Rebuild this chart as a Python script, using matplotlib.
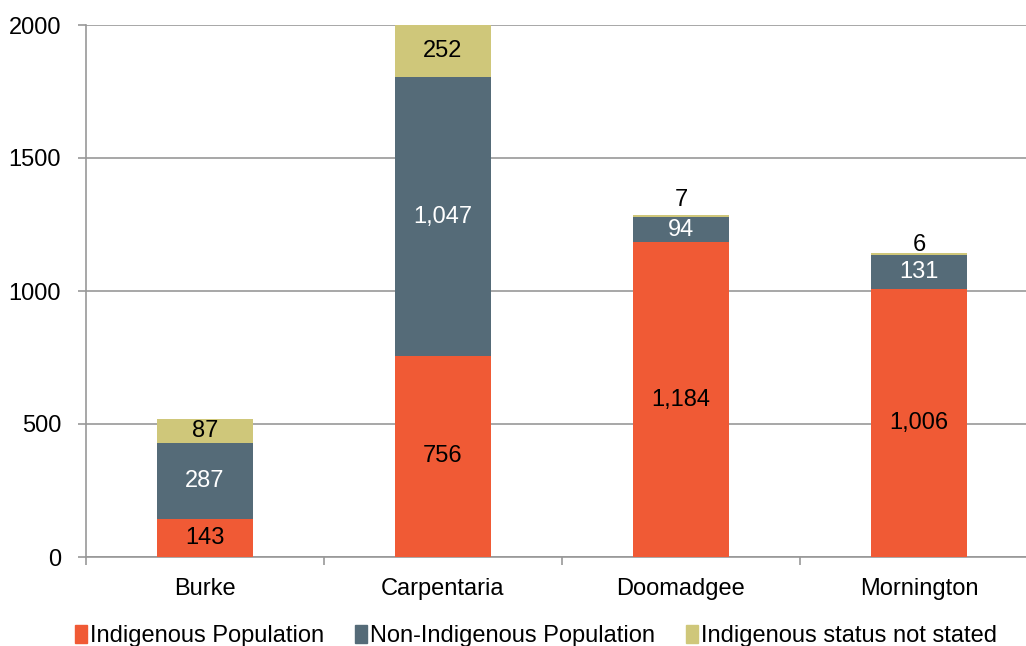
import matplotlib.pyplot as plt
import numpy as np
from matplotlib.patches import Patch

plt.rcParams['font.family'] = ['Liberation Sans', 'DejaVu Sans']

# data
regions = ['Burke', 'Carpentaria', 'Doomadgee', 'Mornington']
indigenous = [143, 756, 1184, 1006]
non_indigenous = [287, 1047, 94, 131]
not_stated = [87, 252, 7, 6]
series_names = ['Indigenous Population', 'Non-Indigenous Population', 'Indigenous status not stated']

colOrange = '#F05A35'
colSlate = '#556B78'
colKhaki = '#CFC77A'
colGrid = '#989898'

fig = plt.figure(figsize=(10.26, 6.46), dpi=100)
ax = fig.add_axes([86/1026, 1-557/646, 940/1026, 532/646])

x = np.arange(len(regions))
width = 0.4
ind = np.array(indigenous)
non = np.array(non_indigenous)
nst = np.array(not_stated)
ymax = 2000

ax.bar(x, ind, width, color=colOrange, zorder=3)
ax.bar(x, non, width, bottom=ind, color=colSlate, zorder=3)
ax.bar(x, nst, width, bottom=ind+non, color=colKhaki, zorder=3)

fs = 17
for i in range(len(regions)):
    ax.text(x[i], ind[i]/2, f'{ind[i]:,}', ha='center', va='center', fontsize=fs, color='black', zorder=4)
    ax.text(x[i], ind[i]+non[i]/2, f'{non[i]:,}', ha='center', va='center', fontsize=fs, color='white', zorder=4)
    lo = ind[i]+non[i]
    hi = min(lo+nst[i], ymax)
    if nst[i] > 50:
        ax.text(x[i], (lo+hi)/2, f'{nst[i]:,}', ha='center', va='center', fontsize=fs, color='black', zorder=4)
    else:
        ax.text(x[i], hi+(15 if i == 2 else -10), f'{nst[i]:,}', ha='center', va='bottom', fontsize=fs, color='black', zorder=4)

ax.set_xlim(-0.5, 3.45)
ax.set_ylim(0, ymax)
ax.set_yticks([0, 500, 1000, 1500, 2000])
ax.yaxis.grid(True, color=colGrid, linewidth=1.2, zorder=0)
ax.set_axisbelow(True)
ax.set_xticks(x)
ax.set_xticklabels(regions, fontsize=fs)
ax.tick_params(axis='x', length=0, pad=15)
ax.set_xticks(np.arange(-0.5, 3.5, 1.0), minor=True)
ax.tick_params(axis='x', which='minor', length=6, color=colGrid, width=1.2)
ax.tick_params(axis='y', length=6, color=colGrid, width=1.2, labelsize=fs, pad=12)
for s in ['top', 'right']:
    ax.spines[s].set_visible(False)
for s in ['left', 'bottom']:
    ax.spines[s].set_color(colGrid)
    ax.spines[s].set_linewidth(1.2)

handles = [Patch(color=c) for c in [colOrange, colSlate, colKhaki]]
fig.legend(handles, series_names, loc='center', bbox_to_anchor=(536/1026, 1-636/646), ncol=3,
           frameon=False, fontsize=fs, handlelength=0.5, handleheight=0.8, handletextpad=0.15,
           columnspacing=1.3, borderpad=0)

fig.savefig('out.png', dpi=100)
